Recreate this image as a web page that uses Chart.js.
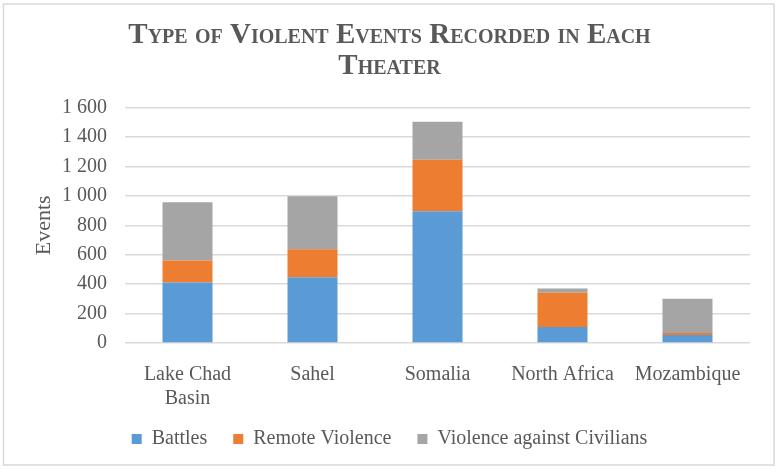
<!DOCTYPE html>
<html>
<head>
<meta charset="utf-8">
<script src="https://cdn.jsdelivr.net/npm/chart.js@4/dist/chart.umd.min.js"></script>
<style>
html,body{margin:0;padding:0;background:#fff;}
#wrap{width:779px;height:470px;position:relative;}
</style>
</head>
<body>
<div id="wrap"><canvas id="c" width="779" height="470"></canvas></div>
<script>
const categories = [["Lake Chad", "Basin"], "Sahel", "Somalia", "North Africa", "Mozambique"];
const battles = [412, 447, 896, 109, 55];
const remoteViolence = [149, 191, 349, 233, 13];
const violenceAgainstCivilians = [396, 360, 259, 29, 233];
const seriesNames = ["Battles", "Remote Violence", "Violence against Civilians"];
const titleLines = ["Type of Violent Events Recorded in Each", "Theater"];
const yMin = 0, yMax = 1600, yStep = 200;

const FONT = "'Liberation Serif', 'Times New Roman', serif";
const TEXT = "#595959";

const borderPlugin = {
  id: 'outerBorder',
  beforeDraw(chart) {
    const ctx = chart.ctx;
    ctx.save();
    ctx.fillStyle = '#fff';
    ctx.fillRect(0, 0, chart.width, chart.height);
    ctx.strokeStyle = '#D9D9D9';
    ctx.lineWidth = 1.5;
    ctx.strokeRect(3.5, 4, 770.5, 461);
    ctx.restore();
  }
};

new Chart(document.getElementById('c'), {
  type: 'bar',
  data: {
    labels: categories,
    datasets: [
      { label: seriesNames[0], data: battles, backgroundColor: '#5B9BD5' },
      { label: seriesNames[1], data: remoteViolence, backgroundColor: '#ED7D31' },
      { label: seriesNames[2], data: violenceAgainstCivilians, backgroundColor: '#A5A5A5' }
    ]
  },
  options: {
    responsive: false,
    animation: false,
    devicePixelRatio: 1,
    categoryPercentage: 1,
    barPercentage: 0.4,
    layout: { padding: { left: 4, right: 4, top: 0, bottom: 11 } },
    plugins: {
      title: {
        display: true,
        text: titleLines,
        color: TEXT,
        font: { family: FONT, size: 29, weight: 'small-caps bold', lineHeight: 1.08 },
        padding: { top: 20, bottom: 25 }
      },
      legend: {
        position: 'bottom',
        labels: {
          color: TEXT,
          font: { family: FONT, size: 20 },
          boxWidth: 10,
          boxHeight: 10,
          padding: 26
        }
      },
      tooltip: { enabled: false }
    },
    scales: {
      x: {
        stacked: true,
        grid: { display: false, drawTicks: false },
        border: { display: false },
        ticks: { color: TEXT, font: { family: FONT, size: 20, lineHeight: 1.2 }, padding: 20, maxRotation: 0, autoSkip: false },
        afterFit(scale) {
          scale.height = 60;
          scale._computeLabelArea = function () { return undefined; };
        }
      },
      y: {
        stacked: true,
        min: yMin,
        max: yMax,
        grid: { color: '#D9D9D9', lineWidth: 1.5, drawTicks: false },
        border: { display: false },
        ticks: {
          stepSize: yStep,
          color: TEXT,
          font: { family: FONT, size: 20 },
          padding: 18,
          callback: (v) => String(v).replace(/\B(?=(\d{3})+(?!\d))/g, ' ')
        },
        title: {
          display: true,
          text: 'Events',
          color: TEXT,
          font: { family: FONT, size: 22, lineHeight: 1.1 },
          padding: { top: 28, bottom: 0 }
        },
        afterFit(scale) { scale.width = 121; }
      },
      yRight: {
        position: 'right',
        display: true,
        grid: { display: false, drawTicks: false },
        border: { display: false },
        ticks: { display: false },
        afterFit(scale) { scale.width = 25; }
      }
    }
  },
  plugins: [borderPlugin]
});
</script>
</body>
</html>
